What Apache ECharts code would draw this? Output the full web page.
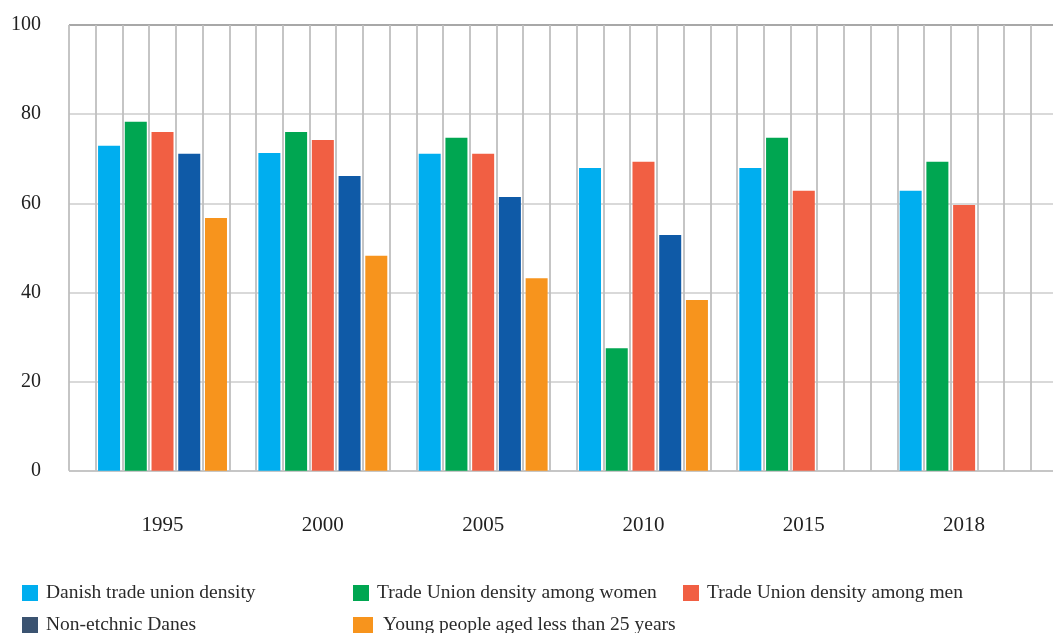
<!DOCTYPE html>
<html>
<head>
<meta charset="utf-8">
<script src="https://cdn.jsdelivr.net/npm/echarts@6/dist/echarts.min.js"></script>
<style>
  html, body { margin: 0; padding: 0; background: #ffffff; }
  #chart { width: 1053px; height: 633px; }
</style>
</head>
<body>
<div id="chart"></div>
<script>
const years = ['1995', '2000', '2005', '2010', '2015', '2018'];
const danishDensity = [72.9, 71.3, 71.1, 67.9, 67.9, 62.8];
const womenDensity = [78.3, 76.0, 74.7, 27.5, 74.7, 69.3];
const menDensity = [76.0, 74.2, 71.1, 69.3, 62.8, 59.6];
const nonEthnicDanes = [71.1, 66.1, 61.4, 52.9, null, null];
const youngPeople = [56.7, 48.2, 43.2, 38.3, null, null];
const yTicks = [0, 20, 40, 60, 80, 100];

const seriesNames = [
  'Danish trade union density',
  'Trade Union density among women',
  'Trade Union density among men',
  'Non-etchnic Danes',
  'Young people aged less than 25 years'
];
const seriesData = [danishDensity, womenDensity, menDensity, nonEthnicDanes, youngPeople];
const colors = ['#00AEEF', '#00A651', '#F15F43', '#0F5AA7', '#F7941D'];
const legendColors = ['#00AEEF', '#00A651', '#F15F43', '#3B5371', '#F7941D'];

const FONT = '"Liberation Serif", "DejaVu Serif", serif';
const slot = 26.72;
const plotLeft = 69, plotTop = 25, plotBottom = 162.3;
const W = 1053;

const chart = echarts.init(document.getElementById('chart'));

const legendPos = [
  { left: 22, top: 583, w: 16 },
  { left: 353, top: 583, w: 16 },
  { left: 683, top: 583, w: 16 },
  { left: 22, top: 615, w: 16 },
  { left: 353, top: 615, w: 20 }
];

const legends = seriesNames.map((n, i) => ({
  show: true,
  left: legendPos[i].left,
  top: legendPos[i].top,
  padding: 0,
  icon: 'rect',
  itemWidth: legendPos[i].w,
  itemHeight: 16,
  selectedMode: false,
  data: [{ name: n, itemStyle: { color: legendColors[i] } }],
  textStyle: {
    fontFamily: FONT,
    fontSize: 19.5,
    color: '#2b2b2b',
    padding: [0, 0, 0, i === 4 ? 5 : 3]
  }
}));

chart.setOption({
  animation: false,
  backgroundColor: '#ffffff',
  legend: legends,
  grid: [
    { left: plotLeft, top: plotTop, right: 0, bottom: plotBottom, containLabel: false },
    { left: plotLeft + slot / 2, top: plotTop, width: slot * 36, bottom: plotBottom, containLabel: false }
  ],
  xAxis: [
    {
      gridIndex: 0, type: 'value', min: 0, max: (W - plotLeft) / slot, interval: 1,
      axisLine: { show: false }, axisTick: { show: false }, axisLabel: { show: false },
      splitLine: { show: true, showMaxLine: false, lineStyle: { color: '#bfbfbf', width: 1.8 } }
    },
    {
      gridIndex: 1, type: 'category', data: years,
      axisLine: { show: false }, axisTick: { show: false },
      axisLabel: { fontFamily: FONT, fontSize: 21, color: '#222', margin: 44 },
      splitLine: { show: false }
    }
  ],
  yAxis: [
    {
      gridIndex: 0, type: 'value', min: yTicks[0], max: yTicks[yTicks.length - 1], interval: 20,
      axisLine: { show: false }, axisTick: { show: false },
      axisLabel: { fontFamily: FONT, fontSize: 20, color: '#222', margin: 28 },
      splitLine: {
        show: true,
        lineStyle: { color: ['#c6c6c6', '#d9d9d9', '#d9d9d9', '#d9d9d9', '#d9d9d9', '#a8a8a8'], width: 2 }
      }
    },
    {
      gridIndex: 1, type: 'value', min: 0, max: 100, interval: 20, show: false,
      splitLine: { show: false }
    }
  ],
  series: seriesNames.map((n, i) => ({
    name: n,
    type: 'bar',
    xAxisIndex: 1,
    yAxisIndex: 1,
    barWidth: 22,
    barGap: (4.72 / 22 * 100).toFixed(1) + '%',
    itemStyle: { color: colors[i] },
    data: seriesData[i]
  }))
});
</script>
</body>
</html>
